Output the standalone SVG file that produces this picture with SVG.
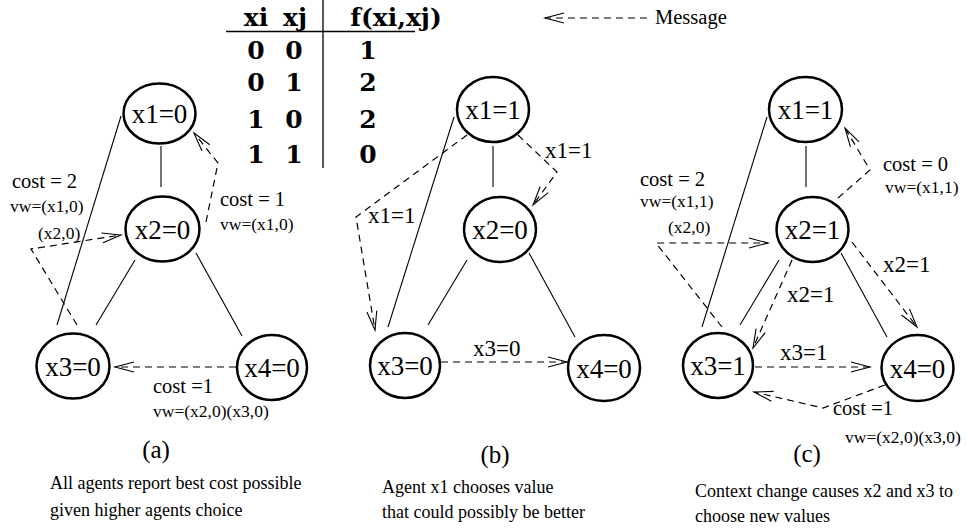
<svg xmlns="http://www.w3.org/2000/svg" width="967" height="529" viewBox="0 0 967 529">
<defs>
<marker id="ah" markerUnits="userSpaceOnUse" markerWidth="22" markerHeight="12" refX="19" refY="5" orient="auto" overflow="visible">
<path d="M0,0 L19,5 L0,10" fill="none" stroke="#000" stroke-width="1.1"/>
</marker>
<style>
.n{fill:#fff;stroke:#000;stroke-width:2.5}
.nt{font-family:"Liberation Serif","Times New Roman",serif;font-size:27px;text-anchor:middle;fill:#000}
.e{fill:none;stroke:#000;stroke-width:1.1}
.d{fill:none;stroke:#000;stroke-width:1.2;stroke-dasharray:7 5;marker-end:url(#ah)}
.c{font-family:"Liberation Serif","Times New Roman",serif;font-size:20.5px;fill:#000}
.v{font-family:"Liberation Serif","Times New Roman",serif;font-size:17.5px;fill:#000}
.l{font-family:"Liberation Serif","Times New Roman",serif;font-size:23px;fill:#000}
.p{font-family:"Liberation Serif","Times New Roman",serif;font-size:25px;fill:#000;text-anchor:middle}
.cap{font-family:"Liberation Serif","Times New Roman",serif;font-size:18px;fill:#000}
.tb{font-family:"DejaVu Serif","Liberation Serif",serif;font-weight:bold;font-size:25px;fill:#000;text-anchor:middle}
</style>
</defs>
<rect width="967" height="529" fill="#fff"/>

<g id="table">
<line x1="226" y1="31.5" x2="415" y2="31.5" stroke="#000" stroke-width="1.3"/>
<line x1="323" y1="0" x2="323" y2="168" stroke="#000" stroke-width="1.3"/>
<text class="tb" x="256" y="26">xi</text>
<text class="tb" x="295" y="26">xj</text>
<text class="tb" x="396" y="26">f(xi,xj)</text>
<text class="tb" x="256" y="59">0</text><text class="tb" x="294" y="59">0</text><text class="tb" x="368" y="59">1</text>
<text class="tb" x="256" y="91">0</text><text class="tb" x="294" y="91">1</text><text class="tb" x="368" y="91">2</text>
<text class="tb" x="256" y="128">1</text><text class="tb" x="294" y="128">0</text><text class="tb" x="368" y="128">2</text>
<text class="tb" x="256" y="163">1</text><text class="tb" x="294" y="163">1</text><text class="tb" x="368" y="163">0</text>
</g>

<g id="legend">
<path class="d" d="M647,18 L545,18"/>
<text class="c" x="655" y="24">Message</text>
</g>

<g id="connectors">
<!-- panel a -->
<line class="e" x1="121" y1="116" x2="57" y2="325"/>
<line class="e" x1="161" y1="146" x2="161" y2="187"/>
<line class="e" x1="135" y1="260" x2="96" y2="325"/>
<line class="e" x1="196" y1="253" x2="242" y2="336"/>
<path class="d" d="M77,325 L31,249 L121,235"/>
<path class="d" d="M206,222 L218,163 L194,133"/>
<path class="d" d="M236,367 L115,367"/>
<!-- panel b -->
<line class="e" x1="454" y1="117" x2="388" y2="327"/>
<line class="e" x1="493" y1="146" x2="493" y2="187"/>
<line class="e" x1="467" y1="260" x2="428" y2="325"/>
<line class="e" x1="529" y1="253" x2="575" y2="337"/>
<path class="d" d="M467,135 L356,217 L375,330"/>
<path class="d" d="M518,135 L557,172 L533,205"/>
<path class="d" d="M441,362 L567,362"/>
<!-- panel c -->
<line class="e" x1="767" y1="117" x2="702" y2="327"/>
<line class="e" x1="806" y1="146" x2="806" y2="187"/>
<line class="e" x1="779" y1="260" x2="740" y2="325"/>
<line class="e" x1="841" y1="253" x2="887" y2="337"/>
<path class="d" d="M838,198 L870,170 L845,128"/>
<path class="d" d="M722,327 L656,243 L768,243"/>
<path class="d" d="M852,242 L917,327"/>
<path class="d" d="M792,260 L753,348"/>
<path class="d" d="M755,367 L870,367"/>
<path class="d" d="M885,385 L823,408 L754,392"/>
</g>

<g id="a-x1"><ellipse class="n" cx="159.5" cy="113.5" rx="36" ry="30"/><text class="nt" x="159.5" y="123">x1=0</text></g>
<g id="a-x2"><ellipse class="n" cx="162.5" cy="229" rx="37" ry="32.5"/><text class="nt" x="162.5" y="238.5">x2=0</text></g>
<g id="a-x3"><ellipse class="n" cx="73" cy="366" rx="36.5" ry="32.5"/><text class="nt" x="73" y="375.5">x3=0</text></g>
<g id="a-x4"><ellipse class="n" cx="272" cy="367.5" rx="35" ry="32.5"/><text class="nt" x="272" y="377">x4=0</text></g>

<g id="b-x1"><ellipse class="n" cx="493" cy="109.5" rx="36" ry="32.5"/><text class="nt" x="493" y="119">x1=1</text></g>
<g id="b-x2"><ellipse class="n" cx="500" cy="229.5" rx="36" ry="32.5"/><text class="nt" x="500" y="239">x2=0</text></g>
<g id="b-x3"><ellipse class="n" cx="405" cy="365.5" rx="35" ry="32.5"/><text class="nt" x="405" y="375">x3=0</text></g>
<g id="b-x4"><ellipse class="n" cx="604" cy="368" rx="36" ry="33"/><text class="nt" x="604" y="377.5">x4=0</text></g>

<g id="c-x1"><ellipse class="n" cx="805.5" cy="109.5" rx="36.5" ry="32.5"/><text class="nt" x="805.5" y="119">x1=1</text></g>
<g id="c-x2"><ellipse class="n" cx="812.5" cy="229.5" rx="36" ry="32.5"/><text class="nt" x="812.5" y="239">x2=1</text></g>
<g id="c-x3"><ellipse class="n" cx="718" cy="365.5" rx="35" ry="32.5"/><text class="nt" x="718" y="375">x3=1</text></g>
<g id="c-x4"><ellipse class="n" cx="917.5" cy="368" rx="36" ry="33"/><text class="nt" x="917.5" y="377.5">x4=0</text></g>

<g id="labels">
<text class="c" x="12" y="188">cost = 2</text>
<text class="v" x="10" y="212">vw=(x1,0)</text>
<text class="v" x="38" y="239">(x2,0)</text>
<text class="c" x="220" y="206">cost = 1</text>
<text class="v" x="220" y="230">vw=(x1,0)</text>
<text class="c" x="153" y="393">cost =1</text>
<text class="v" x="153" y="417">vw=(x2,0)(x3,0)</text>
<text class="p" x="156" y="458">(a)</text>
<text class="cap" x="50" y="489">All agents report best cost possible</text>
<text class="cap" x="50" y="516">given higher agents choice</text>

<text class="l" x="368" y="223">x1=1</text>
<text class="l" x="545" y="158">x1=1</text>
<text class="l" x="473" y="356">x3=0</text>
<text class="p" x="495" y="463">(b)</text>
<text class="cap" x="382" y="493">Agent x1 chooses value</text>
<text class="cap" x="382" y="518">that could possibly be better</text>

<text class="c" x="883" y="171">cost = 0</text>
<text class="v" x="885" y="193">vw=(x1,1)</text>
<text class="c" x="640" y="186">cost = 2</text>
<text class="v" x="640" y="207">vw=(x1,1)</text>
<text class="v" x="668" y="233">(x2,0)</text>
<text class="l" x="883" y="272">x2=1</text>
<text class="l" x="787" y="302">x2=1</text>
<text class="l" x="780" y="360">x3=1</text>
<text class="c" x="833" y="415">cost =1</text>
<text class="v" x="845" y="443">vw=(x2,0)(x3,0)</text>
<text class="p" x="807" y="462">(c)</text>
<text class="cap" x="695" y="497">Context change causes x2 and x3 to</text>
<text class="cap" x="695" y="522">choose new values</text>
</g>
</svg>
